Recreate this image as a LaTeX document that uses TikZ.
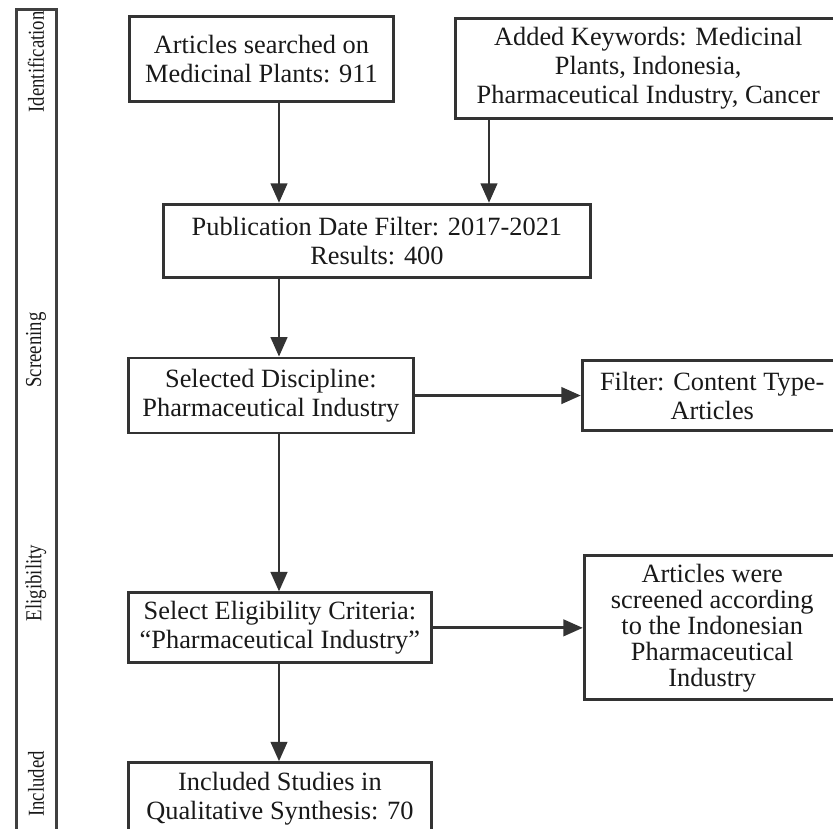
\documentclass[tikz,border=0pt]{standalone}
\usepackage{fontspec}
\setmainfont{Liberation Serif}
\usepackage{xcolor}
\usetikzlibrary{arrows.meta, positioning}
\tikzset{
  fblk/.style={
    rectangle, draw=black!80, line width=1.6pt, fill=white,
    align=center, inner sep=2pt, text=black!90,
    font=\fontsize{15}{16.5}\selectfont
  },
  farr/.style={line width=1.6pt, draw=black!80, -{Triangle[length=3.9mm,width=3.3mm]}},
  stage/.style={rotate=90, xscale=0.82, text=black!90, font=\fontsize{13}{14}\selectfont}
}

\begin{document}
\begin{tikzpicture}
  \useasboundingbox (0,0) rectangle (16.66,-16.56);

  % phase column on the left
  \node[draw=black!75, line width=1.6pt, minimum width=0.8cm, minimum height=17cm,
        anchor=north west] (bar) at (0.30,-0.16) {};
  \node[stage] (ident) at (0.72,-1.24)  {Identification};
  \node[stage] (scree) at (0.72,-7.00)  {Screening};
  \node[stage] (eligb) at (0.72,-11.66) {Eligibility};
  \node[stage] (inclu) at (0.72,-15.68) {Included};

  % flow boxes
  \node[fblk, minimum width=5.28cm, minimum height=1.70cm, anchor=north west]
    (srch) at (2.56,-0.30) {Articles searched on\\Medicinal Plants: 911};
  \node[fblk, minimum width=7.72cm, minimum height=2.0cm,
        below right=0.04cm and 1.18cm of srch.north east]
    (kw) {Added Keywords: Medicinal\\Plants, Indonesia,\\Pharmaceutical Industry, Cancer};
  \node[fblk, minimum width=8.54cm, minimum height=1.46cm,
        below right=2.0cm and 0.68cm of srch.south west]
    (pub) {Publication Date Filter: 2017-2021\\Results: 400};
  \node[fblk, minimum width=5.70cm, minimum height=1.50cm,
        below left=1.56cm and 0.70cm of pub.south west, anchor=north west]
    (disc) {Selected Discipline:\\Pharmaceutical Industry};
  \node[fblk, minimum width=5.20cm, minimum height=1.40cm, right=3.32cm of disc]
    (type) {Filter: Content Type-\\Articles};
  \node[fblk, minimum width=6.06cm, minimum height=1.40cm,
        below=3.14cm of disc.south west, anchor=north west]
    (elig) {Select Eligibility Criteria:\\``Pharmaceutical Industry''};
  \node[fblk, minimum width=5.12cm, minimum height=2.88cm, right=3.0cm of elig,
        font=\fontsize{15}{14.8}\selectfont]
    (scrn) {Articles were\\screened according\\to the Indonesian\\Pharmaceutical\\Industry};
  \node[fblk, minimum width=6.06cm, minimum height=1.44cm,
        below=1.94cm of elig.south west, anchor=north west]
    (incl) {Included Studies in\\Qualitative Synthesis: 70};

  % connectors
  \coordinate (spine)  at (5.58,0);
  \coordinate (kwdrop) at (9.78,0);
  \draw[farr] (srch.south -| spine)  -- (pub.north -| spine);
  \draw[farr] (kw.south -| kwdrop)   -- (pub.north -| kwdrop);
  \draw[farr] (pub.south -| spine)   -- (disc.north -| spine);
  \draw[farr] (disc.east)            -- (type.west);
  \draw[farr] (disc.south -| spine)  -- (elig.north -| spine);
  \draw[farr] (elig.east)            -- (scrn.west);
  \draw[farr] (elig.south -| spine)  -- (incl.north -| spine);
\end{tikzpicture}
\end{document}
